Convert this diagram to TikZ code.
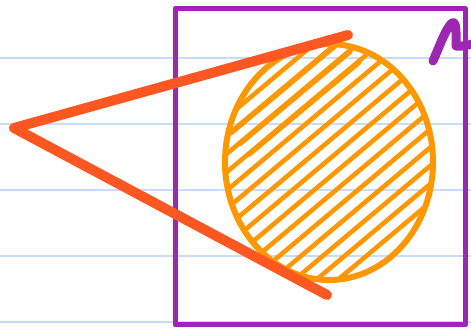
\documentclass[tikz,border=0pt]{standalone}
\usepackage{tikz}
\definecolor{rulerblue}{HTML}{C8DDFB}
\definecolor{boxpurple}{HTML}{9C27B0}
\definecolor{hatchorange}{HTML}{FF9800}
\definecolor{conered}{HTML}{FF5722}
\tikzset{
  ruler/.style={draw=rulerblue, line width=2pt},
  frame/.style={draw=boxpurple, line width=5pt, line join=round},
  hatch/.style={draw=hatchorange, line width=4.6pt, line cap=round},
  rim/.style={draw=hatchorange, line width=6pt},
  cone/.style={draw=conered, line width=10pt, line cap=round, line join=round},
  letter/.style={draw=boxpurple, line width=9pt, line cap=round, line join=round}
}
\begin{document}
\begin{tikzpicture}[x=1pt,y=-1pt]
\useasboundingbox (0,0) rectangle (471,328);
\fill[white] (0,0) rectangle (471,328);
% notebook lines
\foreach \yy in {58,124,190,256,322}
  \draw[ruler] (0,\yy) -- (471,\yy);
% frame
\draw[frame] (175,8.5) rectangle (465.5,325);
% hatching inside the ellipse
\begin{scope}
  \clip (329,162) ellipse [x radius=102, y radius=116];
  \foreach \t in {-100,-86,...,100}
    \draw[hatch] ({329+\t*0.643-122.6},{162+\t*0.766+102.9}) -- ++(245.1,-205.8);
  \foreach \t in {-79,-65,-51}
    \draw[hatch] ({322+\t*0.643-40},{160+\t*0.766+33.6}) -- ++(110,-92);
\end{scope}
\coordinate (c) at (329,162);
\draw[rim] (c) ellipse [x radius=104, y radius=118];
% cone
\coordinate (apex) at (14,128);
\coordinate (top) at (348,35);
\coordinate (bot) at (327,295);
\draw[cone] (top) -- (apex) -- (bot);
% letter
\draw[letter] (433,61) .. controls (440,45) and (446,28) .. (452,23)
  .. controls (457,20) and (456,36) .. (456,46)
  .. controls (461,47) and (467,45) .. (473,44);
\end{tikzpicture}
\end{document}
